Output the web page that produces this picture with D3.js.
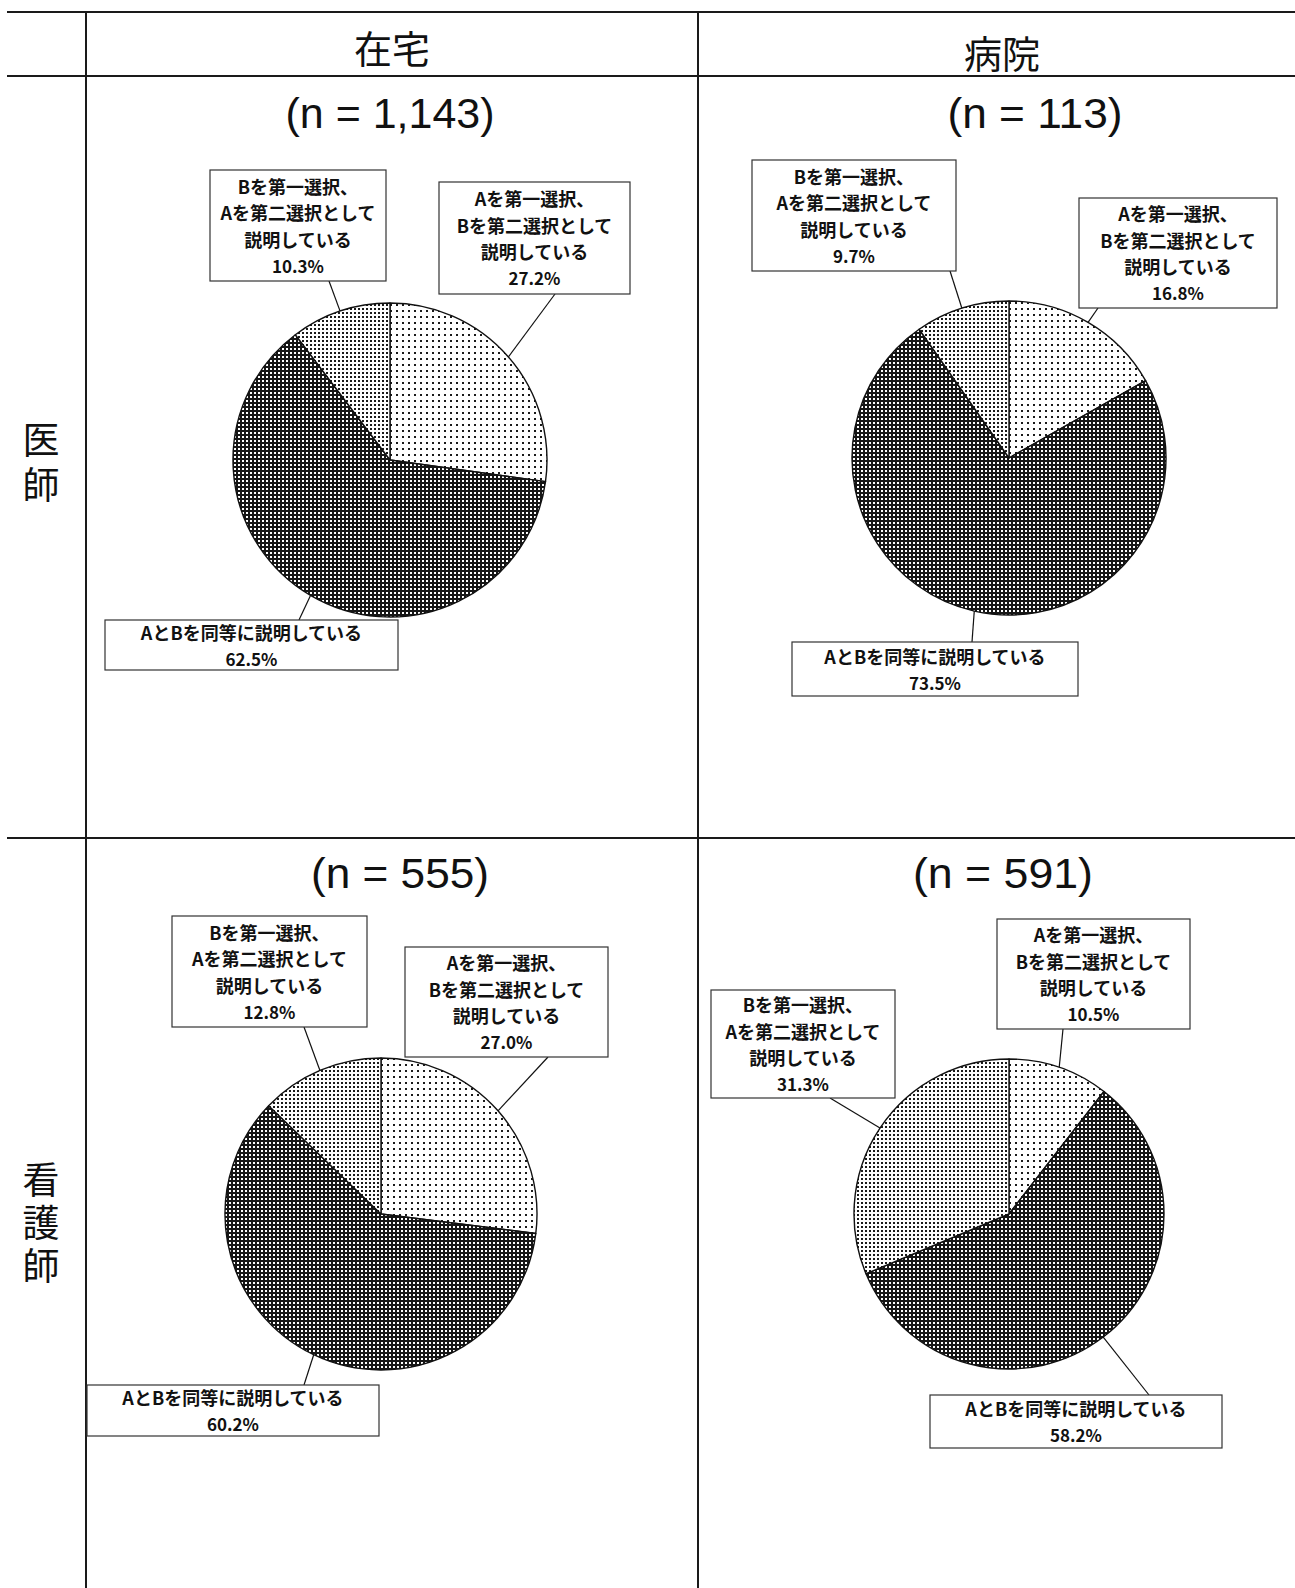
<!DOCTYPE html>
<html>
<head>
<meta charset="utf-8">
<script src="https://cdn.jsdelivr.net/npm/d3@7"></script>
<style>
  html, body { margin: 0; padding: 0; background: #fff; }
  svg { display: block; }
</style>
</head>
<body>
<svg id="chart" width="1295" height="1588"></svg>
<script>
// ---- data ----
const columns = ["在宅", "病院"];
const rows = ["医師", "看護師"];
const categories = [
  "Aを第一選択、Bを第二選択として説明している",
  "AとBを同等に説明している",
  "Bを第一選択、Aを第二選択として説明している"
];
const categoryLines = [
  ["Aを第一選択、", "Bを第二選択として", "説明している"],
  ["AとBを同等に説明している"],
  ["Bを第一選択、", "Aを第二選択として", "説明している"]
];
const sampleSizes = ["1,143", "113", "555", "591"];
const zaitakuDoctor  = [27.2, 62.5, 10.3];
const hospitalDoctor = [16.8, 73.5, 9.7];
const zaitakuNurse   = [27.0, 60.2, 12.8];
const hospitalNurse  = [10.5, 58.2, 31.3];
const panelValues = [zaitakuDoctor, hospitalDoctor, zaitakuNurse, hospitalNurse];

// ---- layout ----
const W = 1295, H = 1588;
const grid = { left: 7, top: 12, headerBottom: 76, rowDivider: 838, colA: 86, colB: 698 };
const panels = [
  { cx: 390,  cy: 460,  r: 157, nx: 390,  ny: 128, nw: 209 },
  { cx: 1009, cy: 458,  r: 157, nx: 1035, ny: 128, nw: 175 },
  { cx: 381,  cy: 1214, r: 156, nx: 400,  ny: 888, nw: 178 },
  { cx: 1009, cy: 1214, r: 155, nx: 1003, ny: 888, nw: 180 }
];
// label boxes per panel, in category order: [x0, y0, x1, y1, leader x, edge]
const boxes = [
  [[439, 182, 630, 294, 555, "bottom"], [105, 620, 398, 670, 299, "top"], [210, 170, 386, 281, 329, "bottom"]],
  [[1079, 198, 1277, 308, 1098, "bottom"], [792, 642, 1078, 696, 972, "top"], [752, 160, 956, 271, 950, "bottom"]],
  [[405, 947, 608, 1057, 548, "bottom"], [87, 1385, 379, 1436, 304, "top"], [172, 916, 367, 1027, 304, "bottom"]],
  [[997, 919, 1190, 1029, 1063, "bottom"], [930, 1395, 1222, 1448, 1149, "top"], [711, 990, 895, 1098, 830, "bottom"]]
];
const headerPos = [{ x: 392, y: 46 }, { x: 1002, y: 51 }];
const rowLabelPos = [{ x: 41, y: 421, gap: 8 }, { x: 41, y: 1161, gap: 6 }];

const svg = d3.select("#chart");
const defs = svg.append("defs");

// fill textures: sparse dots, dense dots, dark with light dots
function dotPattern(id, size, dot, bg, fg) {
  const p = defs.append("pattern")
    .attr("id", id).attr("patternUnits", "userSpaceOnUse")
    .attr("width", size).attr("height", size);
  p.append("rect").attr("width", size).attr("height", size).attr("fill", bg);
  p.append("rect").attr("x", 0).attr("y", 0).attr("width", dot).attr("height", dot)
    .attr("fill", fg).attr("shape-rendering", "crispEdges");
}
dotPattern("pat-light", 6, 2, "#fff", "#1a1a1a");
dotPattern("pat-dark", 4, 2, "#161616", "#fff");
dotPattern("pat-mid", 4, 2, "#fff", "#1a1a1a");
const fills = ["url(#pat-light)", "url(#pat-dark)", "url(#pat-mid)"];

// ---- table grid ----
const gridG = svg.append("g").attr("stroke", "#1a1a1a").attr("stroke-width", 2);
[grid.top, grid.headerBottom, grid.rowDivider].forEach(y =>
  gridG.append("line").attr("x1", grid.left).attr("x2", W).attr("y1", y).attr("y2", y));
[grid.colA, grid.colB].forEach(x =>
  gridG.append("line").attr("x1", x).attr("x2", x).attr("y1", grid.top).attr("y2", H));

// column headers
svg.selectAll("text.col").data(columns).join("text")
  .attr("class", "col")
  .attr("x", (d, i) => headerPos[i].x).attr("y", (d, i) => headerPos[i].y)
  .attr("text-anchor", "middle").attr("dominant-baseline", "central")
  .attr("font-family", "'Noto Sans CJK JP', sans-serif")
  .attr("font-size", 38).attr("fill", "#111")
  .text(d => d);

// row headers, set vertically
svg.selectAll("text.row").data(rows).join("text")
  .attr("class", "row")
  .attr("x", (d, i) => rowLabelPos[i].x).attr("y", (d, i) => rowLabelPos[i].y)
  .style("writing-mode", "vertical-rl")
  .style("letter-spacing", (d, i) => rowLabelPos[i].gap + "px")
  .attr("font-family", "'Noto Sans CJK JP', sans-serif")
  .attr("font-size", 37).attr("fill", "#111")
  .text(d => d);

// ---- pies ----
const pie = d3.pie().sort(null).value(d => d);
const fmt = d3.format(".1f");

panels.forEach((p, pi) => {
  const g = svg.append("g");
  const arcs = pie(panelValues[pi]);
  const arc = d3.arc().innerRadius(0).outerRadius(p.r);

  // sample size
  g.append("text")
    .attr("x", p.nx).attr("y", p.ny)
    .attr("text-anchor", "middle")
    .attr("font-family", "'Liberation Sans Narrow', 'Liberation Sans', sans-serif")
    .attr("font-size", 43).attr("fill", "#111")
    .attr("textLength", p.nw).attr("lengthAdjust", "spacingAndGlyphs")
    .text(`(n = ${sampleSizes[pi]})`);

  g.append("g").attr("transform", `translate(${p.cx},${p.cy})`)
    .selectAll("path").data(arcs).join("path")
    .attr("d", arc)
    .attr("fill", (d, i) => fills[i])
    .attr("stroke", "#111").attr("stroke-width", 1.4)
    .attr("stroke-linejoin", "round");

  // leader lines from each label box to the slice edge
  arcs.forEach((a, i) => {
    const b = boxes[pi][i];
    const mid = (a.startAngle + a.endAngle) / 2;
    const ex = p.cx + p.r * Math.sin(mid);
    const ey = p.cy - p.r * Math.cos(mid);
    g.append("line")
      .attr("x1", b[4]).attr("y1", b[5] === "bottom" ? b[3] : b[1])
      .attr("x2", ex).attr("y2", ey)
      .attr("stroke", "#111").attr("stroke-width", 1.2);
  });

  // label boxes
  arcs.forEach((a, i) => {
    const b = boxes[pi][i];
    const lines = categoryLines[i].concat([fmt(a.data) + "%"]);
    const lg = g.append("g");
    lg.append("rect")
      .attr("x", b[0]).attr("y", b[1])
      .attr("width", b[2] - b[0]).attr("height", b[3] - b[1])
      .attr("fill", "#fff").attr("stroke", "#333").attr("stroke-width", 1.2);
    const cx = (b[0] + b[2]) / 2;
    const top = b[1] + ((b[3] - b[1]) - (lines.length - 1) * 26.5) / 2;
    lg.selectAll("text").data(lines).join("text")
      .attr("x", cx).attr("y", (t, k) => top + k * 26.5)
      .attr("text-anchor", "middle").attr("dominant-baseline", "central")
      .attr("font-family", "'Noto Sans CJK JP', sans-serif")
      .attr("font-weight", 700)
      .attr("font-size", (t, k) => k === lines.length - 1 ? 17 : 18)
      .attr("fill", "#111")
      .text(t => t);
  });
});
</script>
</body>
</html>
